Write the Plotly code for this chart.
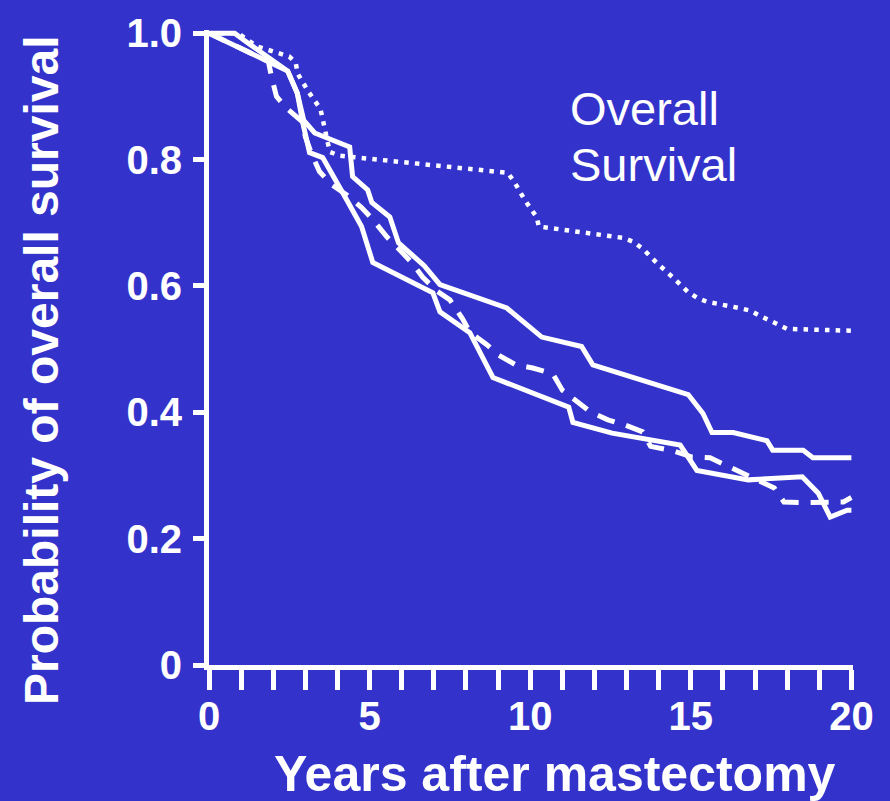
import plotly.graph_objects as go

# ---- data ----
years_a = [0, 0.8, 1.2, 2.3, 2.45, 2.75, 2.95, 3.29, 4.38, 4.47, 4.94, 5.07, 5.63, 5.9, 6.7, 7.19,
           8.2, 9.27, 10.36, 11.6, 11.95, 14.92, 15.38, 15.66, 16.32, 17.37, 17.55, 18.5, 18.8, 20]
surv_a = [1.0, 1.0, 0.985, 0.945, 0.94, 0.905, 0.862, 0.842, 0.82, 0.773, 0.752, 0.732, 0.709, 0.668,
          0.632, 0.602, 0.584, 0.565, 0.519, 0.504, 0.475, 0.428, 0.398, 0.368, 0.368, 0.355, 0.34,
          0.34, 0.328, 0.328]

years_b = [0, 2.3, 2.45, 2.75, 2.92, 3.13, 3.54, 4.29, 4.75, 5.1, 6.97, 7.19, 8.12, 8.84, 11.2,
           11.33, 12.55, 14.67, 15.19, 16.79, 18.47, 18.97, 19.34, 19.87, 20]
surv_b = [1.0, 0.945, 0.94, 0.905, 0.858, 0.811, 0.803, 0.736, 0.694, 0.637, 0.589, 0.559, 0.526,
          0.455, 0.408, 0.384, 0.367, 0.348, 0.308, 0.293, 0.298, 0.272, 0.234, 0.245, 0.245]

years_c = [0, 1.85, 1.95, 2.1, 2.4, 2.9, 3.0, 3.2, 3.44, 3.82, 4.29, 4.75, 5.1, 5.53, 5.88, 6.31,
           6.65, 7.09, 7.5, 7.88, 8.12, 8.65, 9.0, 9.55, 10.08, 10.7, 11.0, 11.46, 11.86, 12.42,
           12.95, 13.5, 13.75, 14.45, 15.04, 15.6, 16.07, 17.6, 17.9, 18.56, 19.75, 20]
surv_c = [1.0, 0.955, 0.93, 0.90, 0.882, 0.86, 0.836, 0.808, 0.781, 0.760, 0.744, 0.724, 0.705,
          0.678, 0.660, 0.637, 0.614, 0.592, 0.578, 0.549, 0.527, 0.507, 0.491, 0.475, 0.470,
          0.461, 0.435, 0.416, 0.401, 0.388, 0.380, 0.369, 0.346, 0.339, 0.329, 0.328, 0.317,
          0.280, 0.258, 0.257, 0.258, 0.265]

years_d = [0, 0.9, 1.5, 2.5, 2.7, 2.76, 3.1, 3.47, 3.6, 3.76, 4.07, 7.0, 9.3, 9.5, 9.83, 10.2,
           10.27, 12.9, 13.2, 13.5, 13.95, 14.45, 14.9, 15.2, 15.5, 16.5, 16.85, 17.1, 17.4, 17.7,
           18.0, 20]
surv_d = [1.0, 1.0, 0.979, 0.963, 0.953, 0.936, 0.907, 0.88, 0.85, 0.812, 0.806, 0.79, 0.779,
          0.765, 0.736, 0.709, 0.694, 0.676, 0.67, 0.659, 0.636, 0.613, 0.591, 0.581, 0.575,
          0.565, 0.561, 0.554, 0.546, 0.538, 0.532, 0.529]

x_tick_vals = list(range(0, 21))
x_tick_text = ["0", "", "", "", "", "5", "", "", "", "", "10", "", "", "", "", "15",
               "", "", "", "", "20"]
y_tick_vals = [0, 0.2, 0.4, 0.6, 0.8, 1.0]
y_tick_text = ["0", "0.2", "0.4", "0.6", "0.8", "1.0"]

x_title = "Years after mastectomy"
y_title = "Probability of overall survival"
label_line1 = "Overall"
label_line2 = "Survival"

# ---- style ----
BG = "#3333CC"
WHITE = "#FFFFFF"
FONT = "Liberation Sans, Arial, sans-serif"

fig = go.Figure()
fig.add_trace(go.Scatter(x=years_d, y=surv_d, mode="lines",
                         line=dict(color=WHITE, width=4.5, dash="4.5px,6.2px")))
fig.add_trace(go.Scatter(x=years_c, y=surv_c, mode="lines",
                         line=dict(color=WHITE, width=5, dash="18px,12px")))
fig.add_trace(go.Scatter(x=years_b, y=surv_b, mode="lines",
                         line=dict(color=WHITE, width=5)))
fig.add_trace(go.Scatter(x=years_a, y=surv_a, mode="lines",
                         line=dict(color=WHITE, width=5)))

L, R, T, B = 209, 37, 30, 136
W, H = 890, 801
pw = W - L - R
ph = H - T - B

def px_to_paper_x(px):
    return (px - L) / pw

def px_to_paper_y(py):
    return (H - B - py) / ph

fig.update_layout(
    width=W, height=H,
    margin=dict(l=L, r=R, t=T, b=B, pad=0),
    paper_bgcolor=BG, plot_bgcolor=BG,
    showlegend=False,
    font=dict(family=FONT, color=WHITE),
    xaxis=dict(range=[0, 20.05], showline=True, linewidth=5, linecolor=WHITE,
               ticks="outside", ticklen=20, tickwidth=5, tickcolor=WHITE,
               tickmode="array", tickvals=x_tick_vals, ticktext=x_tick_text,
               ticklabelstandoff=-8,
               tickfont=dict(family=FONT, size=40, color=WHITE, weight="bold"),
               showgrid=False, zeroline=False, fixedrange=True),
    yaxis=dict(range=[0, 1.005], showline=True, linewidth=5, linecolor=WHITE,
               ticks="outside", ticklen=11, tickwidth=5, tickcolor=WHITE,
               tickmode="array", tickvals=y_tick_vals, ticktext=y_tick_text,
               ticklabelstandoff=3,
               tickfont=dict(family=FONT, size=40, color=WHITE, weight="bold"),
               showgrid=False, zeroline=False, fixedrange=True),
    annotations=[
        dict(text=x_title, xref="paper", yref="paper",
             x=px_to_paper_x(555), y=px_to_paper_y(774), xanchor="center", yanchor="middle",
             showarrow=False, font=dict(family=FONT, size=50, color=WHITE, weight="bold")),
        dict(text=y_title, xref="paper", yref="paper", textangle=-90,
             x=px_to_paper_x(42), y=px_to_paper_y(370), xanchor="center", yanchor="middle",
             showarrow=False, font=dict(family=FONT, size=48, color=WHITE, weight="bold")),
        dict(text=label_line1, xref="paper", yref="paper",
             x=px_to_paper_x(568), y=px_to_paper_y(108), xanchor="left", yanchor="middle",
             showarrow=False, font=dict(family=FONT, size=47, color=WHITE)),
        dict(text=label_line2, xref="paper", yref="paper",
             x=px_to_paper_x(568), y=px_to_paper_y(165), xanchor="left", yanchor="middle",
             showarrow=False, font=dict(family=FONT, size=47, color=WHITE)),
    ],
)

fig.write_html("out.html")
